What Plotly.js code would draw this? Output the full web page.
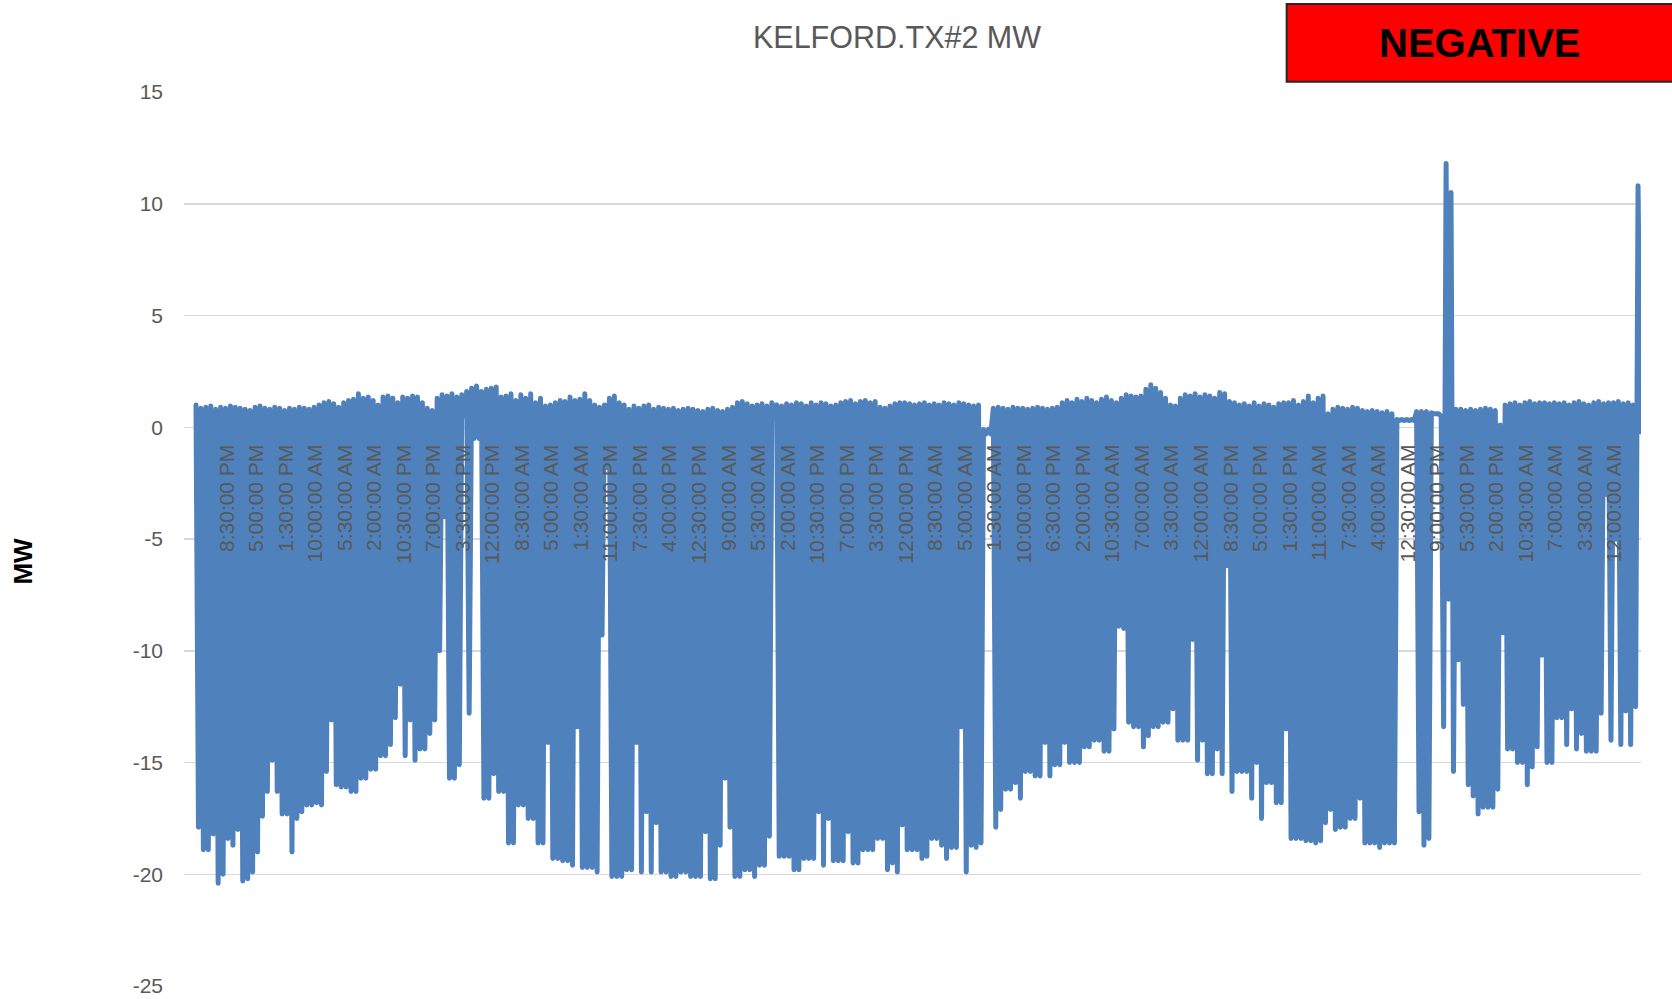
<!DOCTYPE html>
<html>
<head>
<meta charset="utf-8">
<script src="https://cdn.plot.ly/plotly-3.0.1.min.js"></script>
<style>
html,body{margin:0;padding:0;background:#fff;}
#chart{width:1672px;height:999px;}
.js-line{stroke-linejoin:round!important;stroke-linecap:round!important;}
</style>
</head>
<body>
<div id="chart"></div>
<script>
// Tick labels shown on the category axis (every 6th sample pair)
const tickLabels = [
 "8:30:00 PM","5:00:00 PM","1:30:00 PM","10:00:00 AM","5:30:00 AM","2:00:00 AM",
 "10:30:00 PM","7:00:00 PM","3:30:00 PM","12:00:00 PM","8:30:00 AM","5:00:00 AM",
 "1:30:00 AM","11:00:00 PM","7:30:00 PM","4:00:00 PM","12:30:00 PM","9:00:00 AM",
 "5:30:00 AM","2:00:00 AM","10:30:00 PM","7:00:00 PM","3:30:00 PM","12:00:00 PM",
 "8:30:00 AM","5:00:00 AM","1:30:00 AM","10:00:00 PM","6:30:00 PM","2:00:00 PM",
 "10:30:00 AM","7:00:00 AM","3:30:00 AM","12:00:00 AM","8:30:00 PM","5:00:00 PM",
 "1:30:00 PM","11:00:00 AM","7:30:00 AM","4:00:00 AM","12:30:00 AM","9:00:00 PM",
 "5:30:00 PM","2:00:00 PM","10:30:00 AM","7:00:00 AM","3:30:00 AM","12:00:00 AM"
];

// Series MW: upper readings (hi) and lower readings (lo) of each sample pair
const hi = [
 1.0,0.85,0.9,0.95,0.8,0.9,  0.85,0.95,0.9,0.85,0.8,0.75,  0.9,0.95,0.85,0.8,0.9,0.85,
 0.75,0.85,0.8,0.9,0.85,0.8,  0.9,1.0,1.1,1.15,1.05,0.9,  1.1,1.2,1.25,1.5,1.3,1.35,
 1.2,1.0,1.35,1.4,1.3,1.1,  1.35,1.3,1.4,1.35,1.1,0.85,  0.75,1.3,1.45,1.4,1.5,1.35,
 1.45,1.6,1.75,1.85,1.6,1.7,  1.75,1.8,1.35,1.4,1.5,1.2,  1.45,1.3,1.5,1.1,1.3,0.95,
 1.0,1.1,1.2,1.15,1.35,1.2,  1.25,1.5,1.2,1.0,0.9,1.0,  1.3,1.4,1.1,1.0,0.8,0.95,
 0.85,0.95,1.0,0.8,0.9,0.85,  0.8,0.85,0.75,0.8,0.85,0.8,  0.75,0.7,0.8,0.85,0.75,0.7,
 0.8,0.9,1.1,1.15,1.05,0.95,  1.0,1.05,0.95,1.1,1.0,0.95,  1.05,1.0,1.1,1.05,0.95,1.1,
 1.0,1.1,1.05,0.95,1.0,1.1,  1.15,1.2,1.05,1.15,1.2,1.1,  1.15,0.9,0.85,0.95,1.05,1.1,
 1.1,1.05,1.0,1.05,1.1,1.0,  1.05,1.0,1.1,1.05,1.0,1.1,  1.05,1.0,0.95,1.0,-0.1,-0.1,
 0.85,0.9,0.85,0.8,0.9,0.85,  0.85,0.8,0.85,0.9,0.85,0.8,  0.85,0.9,1.1,1.2,1.1,1.25,
 1.15,1.3,1.2,1.1,1.25,1.35,  1.2,1.1,1.3,1.45,1.4,1.35,  1.4,1.7,1.9,1.75,1.55,1.3,
 1.0,0.95,1.3,1.45,1.4,1.5,  1.35,1.45,1.4,1.3,1.55,1.5,  1.15,1.1,1.0,1.05,0.95,1.1,
 0.95,1.05,1.0,0.9,1.05,1.1,  1.1,1.2,1.0,1.15,1.4,1.1,  1.3,1.4,0.6,0.8,0.9,0.85,
 0.8,0.9,0.85,0.75,0.7,0.75,  0.7,0.65,0.7,0.6,0.35,0.35,  0.35,0.35,0.7,0.7,0.7,0.65,
 0.6,0.5,11.8,10.5,0.8,0.8,  0.75,0.8,0.75,0.8,0.85,0.8,  0.75,0.1,1.0,1.05,1.1,1.0,
 1.1,1.15,1.05,1.1,1.1,1.05,  1.1,1.05,1.1,1.0,1.1,1.15,  1.05,1.0,1.1,1.15,1.05,1.1,
 1.1,1.15,1.05,1.1,1.0,10.8
];
const lo = [
 -17.9,-18.9,-18.9,-18.2,-20.4,-20.0,  -18.4,-18.7,-18.0,-20.3,-20.2,-19.9,  -19.0,-17.4,-16.3,-14.9,-16.3,-17.3,
 -17.3,-19.0,-17.5,-17.2,-16.9,-16.9,  -16.8,-16.9,-15.4,-13.1,-16.0,-16.1,  -16.1,-16.3,-16.3,-15.7,-15.7,-15.3,
 -15.3,-14.7,-14.7,-14.2,-13.0,-11.5,  -14.7,-13.1,-14.9,-14.4,-14.4,-13.7,  -13.1,-10.0,-4.0,-15.7,-15.7,-15.1,
 0.5,-12.8,-0.5,-0.5,-16.6,-16.6,  -15.5,-16.3,-16.3,-18.6,-18.6,-16.9,  -16.9,-17.5,-17.5,-18.6,-18.6,-14.1,
 -19.3,-19.3,-19.4,-19.4,-19.6,-13.4,  -19.7,-19.7,-19.7,-19.9,-9.3,-1.8,  -20.1,-20.1,-20.1,-19.8,-19.8,-14.1,
 -19.9,-17.2,-19.9,-17.7,-19.9,-19.9,  -20.1,-20.1,-19.9,-19.9,-20.1,-20.1,  -20.1,-18.1,-20.2,-20.2,-18.7,-15.7,
 -17.9,-20.1,-20.1,-19.8,-19.8,-20.1,  -19.6,-19.6,-18.3,0.4,-19.2,-19.2,  -19.2,-19.8,-19.8,-19.3,-19.3,-19.3,
 -17.2,-19.6,-17.5,-19.4,-19.4,-19.4,  -18.1,-19.5,-19.5,-18.9,-18.9,-18.9,  -18.4,-18.4,-19.8,-19.5,-19.9,-17.8,
 -18.9,-18.9,-18.9,-19.3,-19.2,-18.4,  -18.4,-18.7,-19.3,-18.8,-18.8,-13.4,  -19.9,-18.7,-18.8,-18.6,-0.3,-0.3,
 -17.9,-17.1,-16.2,-16.2,-15.9,-16.6,  -15.4,-15.4,-15.6,-15.6,-14.1,-15.6,  -15.1,-15.1,-14.1,-15.0,-15.0,-15.0,
 -14.3,-14.3,-14.0,-14.0,-14.5,-14.5,  -13.5,-8.9,-9.0,-13.2,-13.4,-13.4,  -14.3,-13.8,-13.4,-13.4,-13.2,-13.2,
 -12.6,-14.0,-14.0,-14.0,-9.5,-14.9,  -14.0,-15.5,-15.5,-14.4,-15.5,-6.2,  -16.3,-15.4,-15.4,-15.4,-16.6,-15.0,
 -17.5,-15.9,-15.9,-16.8,-16.8,-13.5,  -18.4,-18.4,-18.4,-18.5,-18.5,-18.6,  -18.5,-17.7,-17.1,-18.0,-17.9,-17.9,
 -17.5,-17.5,-16.6,-18.6,-18.6,-18.6,  -18.8,-18.6,-18.6,-18.6,0.3,0.3,  0.3,0.3,-17.2,-18.7,-18.4,0.6,
 0.6,-13.4,-7.7,-15.4,-10.4,-12.4,  -16.0,-16.5,-17.3,-17.0,-17.0,-17.0,  -16.2,-9.2,-14.4,-14.4,-15.0,-15.0,
 -16.0,-15.2,-14.3,-10.2,-15.0,-15.0,  -13.0,-13.0,-14.2,-12.6,-14.4,-13.7,  -14.5,-14.5,-14.5,-12.8,-3.0,-14.0,
 -5.0,-14.2,-12.7,-14.2,-12.5,-0.2
];

const yTickVals = [15,10,5,0,-5,-10,-15,-20,-25];
const yTickText = ["15","10","5","0","-5","-10","-15","-20","-25"];

const PAIRS_PER_LABEL = 6;
const FIRST_LABEL_OFFSET = 1.04;

const xs = [], ys = [];
for (let i = 0; i < hi.length; i++) {
  xs.push(i); ys.push(hi[i]);
  xs.push(i + 0.5); ys.push(lo[i]);
}
const tickVals = tickLabels.map((_, k) => (k + FIRST_LABEL_OFFSET) * PAIRS_PER_LABEL);

const FONT = "'Liberation Sans', Arial, sans-serif";
const GREY = "#595959";

const trace = {
  type: "scatter", mode: "lines", x: xs, y: ys,
  line: {color: "#4F81BD", width: 5, simplify: false},
  hoverinfo: "skip", showlegend: false
};

const layout = {
  width: 1672, height: 999,
  margin: {l: 184, r: 31, t: 92, b: 13, pad: 0},
  paper_bgcolor: "#ffffff", plot_bgcolor: "#ffffff",
  showlegend: false,
  title: {text: "KELFORD.TX#2 MW", x: 0.5365, xanchor: "center", xref: "container",
          y: 0.9625, yanchor: "middle", yref: "container",
          font: {family: FONT, size: 30.5, color: GREY}},
  xaxis: {
    range: [-2.44, 293.6], showgrid: false, zeroline: false, showline: false,
    tickmode: "array", tickvals: tickVals, ticktext: tickLabels,
    tickangle: -90, ticks: "", anchor: "free", position: 0.6248,
    ticklabelstandoff: 12,
    tickfont: {family: FONT, size: 21, color: GREY}
  },
  yaxis: {
    range: [-25, 15], showgrid: true, gridcolor: "#d9d9d9", gridwidth: 1.5,
    zeroline: false, showline: false, ticks: "",
    tickmode: "array", tickvals: yTickVals, ticktext: yTickText,
    ticklabelstandoff: 20,
    tickfont: {family: FONT, size: 21, color: GREY}
  },
  shapes: [{
    type: "rect", xref: "paper", yref: "paper",
    x0: 0.7568, x1: 1.022, y0: 1.0115, y1: 1.0984,
    fillcolor: "#FF0000", line: {color: "#262626", width: 2}, layer: "above"
  }],
  annotations: [
    {text: "NEGATIVE", xref: "paper", yref: "paper", x: 0.8895, y: 1.0548,
     xanchor: "center", yanchor: "middle", showarrow: false,
     font: {family: FONT, size: 40, color: "#000000", weight: "bold"}},
    {text: "MW", xref: "paper", yref: "paper", x: -0.1108, y: 0.4754,
     xanchor: "center", yanchor: "middle", showarrow: false, textangle: -90,
     font: {family: FONT, size: 26, color: "#000000", weight: "bold"}}
  ]
};

Plotly.newPlot("chart", [trace], layout, {staticPlot: true, displayModeBar: false});
</script>
</body>
</html>
